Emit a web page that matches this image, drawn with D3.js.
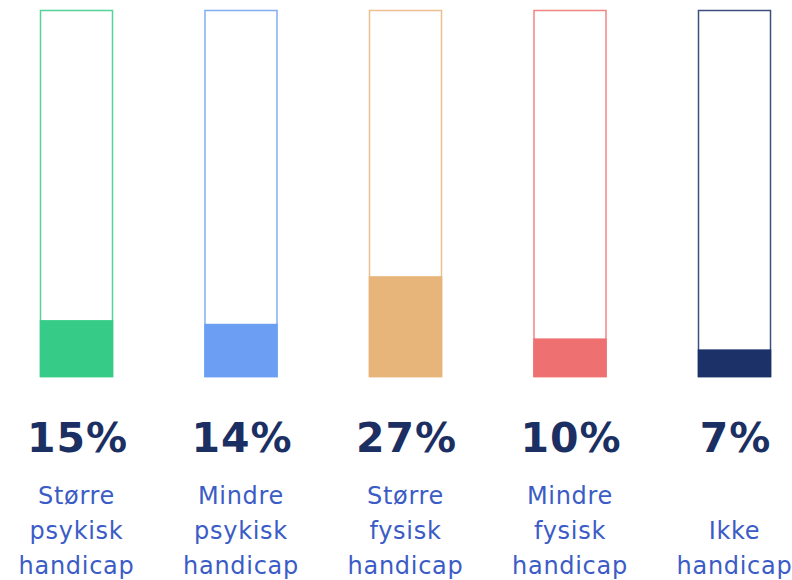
<!DOCTYPE html>
<html><head><meta charset="utf-8">
<script src="https://cdn.jsdelivr.net/npm/d3@7"></script>
<style>body{margin:0;background:#fff}svg{display:block}</style>
</head><body>
<svg id="c" width="792" height="580"></svg>
<script>
const categories = ["Større psykisk handicap","Mindre psykisk handicap","Større fysisk handicap","Mindre fysisk handicap","Ikke handicap"];
const labelLines = [["Større","psykisk","handicap"],["Mindre","psykisk","handicap"],["Større","fysisk","handicap"],["Mindre","fysisk","handicap"],["Ikke","handicap"]];
const values = [15,14,27,10,7];
const colors = ["#36cc88","#6c9ff3","#e7b57a","#ef7070","#1b3168"];

const svg = d3.select("#c");
const x = d3.scaleBand().domain(categories).range([40.5,770.5]).paddingInner(0.5623).paddingOuter(0);
const y = d3.scaleLinear().domain([0,100]).range([376.5,10.5]);

const g = svg.selectAll("g.bar").data(categories).join("g").attr("class","bar");
g.append("rect")
  .attr("x", d=>x(d)).attr("y", y(100))
  .attr("width", x.bandwidth()).attr("height", y(0)-y(100))
  .attr("fill","#fff").attr("stroke",(d,i)=>colors[i]).attr("stroke-width",1.5).attr("stroke-opacity",0.85);
g.append("rect")
  .attr("x", d=>x(d)-0.75).attr("y",(d,i)=>y(values[i])-1.5)
  .attr("width", x.bandwidth()+1.5).attr("height",(d,i)=>y(0)-y(values[i])+2.25)
  .attr("fill",(d,i)=>colors[i]);

g.append("text")
  .attr("x", d=>x(d)+x.bandwidth()/2+1).attr("y",452)
  .attr("text-anchor","middle")
  .attr("font-family","'DejaVu Sans', sans-serif").attr("font-weight","bold")
  .attr("font-size",41).attr("letter-spacing",1).attr("fill","#1c2f63")
  .text((d,i)=>values[i]+"%");

const lineH = 35;
g.each(function(d,i){
  const lines = labelLines[i];
  const t = d3.select(this).append("text")
    .attr("text-anchor","middle")
    .attr("font-family","'DejaVu Sans', sans-serif")
    .attr("font-size",24).attr("letter-spacing",0.7).attr("fill","#3b5cc6");
  lines.forEach((s,k)=>{
    t.append("tspan").attr("x", x(d)+x.bandwidth()/2)
      .attr("y", 573.5 - (lines.length-1-k)*lineH).text(s);
  });
});
</script>
</body></html>
